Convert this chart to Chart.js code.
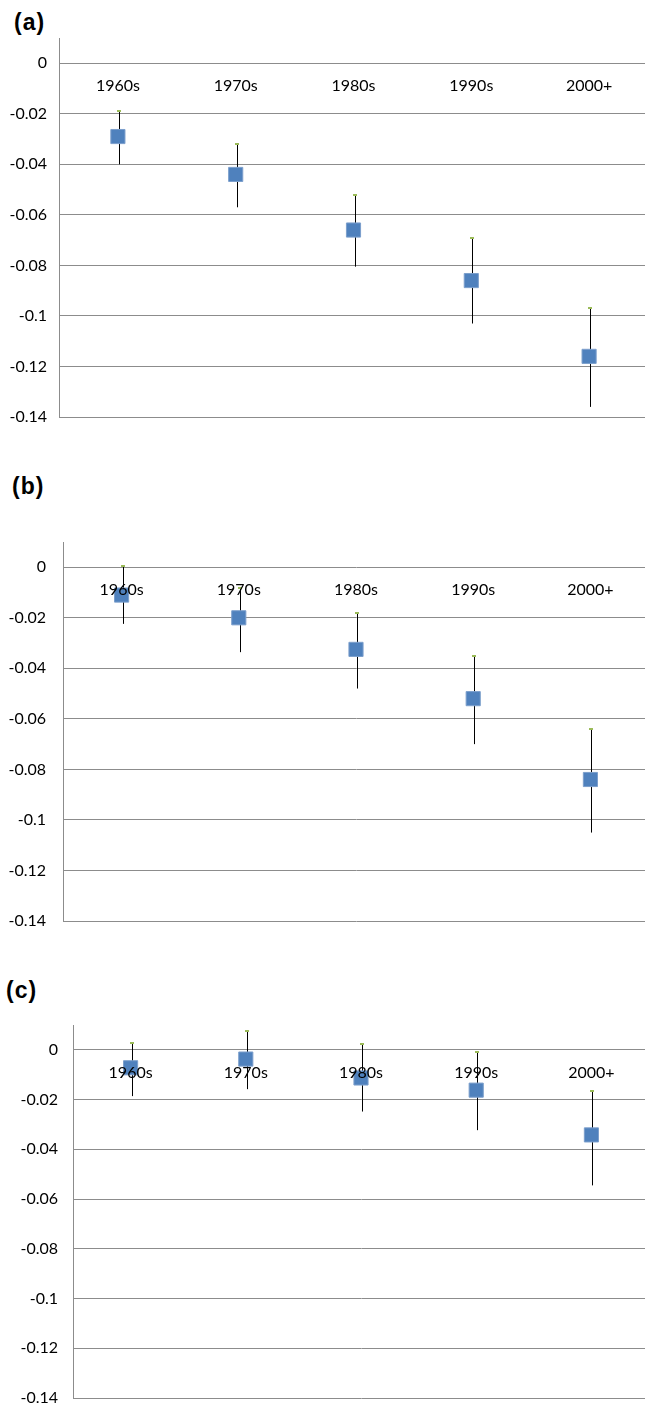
<!DOCTYPE html>
<html lang="en">
<head>
    <meta charset="UTF-8">
    <title>Decade effects</title>
    <script src="https://cdn.jsdelivr.net/npm/chart.js"></script>
    <style>
        html, body { margin: 0; padding: 0; background: #fff; overflow: hidden; }
        body { width: 645px; height: 1408px; position: relative; }
        .panel { position: absolute; left: 0; }
        .tag { position: absolute; font: bold 23px "Liberation Sans", Arial, sans-serif; line-height: 23px; letter-spacing: 1px; color: #000; }
    </style>
</head>
<body>
    <div class="tag" style="left:14px; top:11px">(a)</div>
    <div class="tag" style="left:12px; top:475px">(b)</div>
    <div class="tag" style="left:6px; top:979px">(c)</div>

    <canvas id="chartA" class="panel" style="top:0px" width="660" height="450"></canvas>
    <canvas id="chartB" class="panel" style="top:460px" width="660" height="494"></canvas>
    <canvas id="chartC" class="panel" style="top:960px" width="660" height="471"></canvas>

    <script>
        // categories and axis ticks
        const decades = ['1960s', '1970s', '1980s', '1990s', '2000+'];
        const yTicks = [0, -0.02, -0.04, -0.06, -0.08, -0.1, -0.12, -0.14];

        // panel (a)
        const meanA = [-0.029, -0.044, -0.066, -0.086, -0.116];
        const highA = [-0.019, -0.032, -0.052, -0.069, -0.097];
        const lowA  = [-0.040, -0.057, -0.0805, -0.103, -0.136];

        // panel (b)
        const meanB = [-0.011, -0.020, -0.0325, -0.052, -0.084];
        const highB = [0.0005, -0.0083, -0.018, -0.035, -0.064];
        const lowB  = [-0.0224, -0.0336, -0.048, -0.070, -0.105];

        // panel (c)
        const meanC = [-0.0072, -0.0037, -0.0113, -0.0162, -0.0342];
        const highC = [0.0026, 0.0075, 0.0022, -0.0008, -0.0165];
        const lowC  = [-0.0186, -0.0158, -0.0248, -0.0323, -0.0545];

        Chart.defaults.font.family = 'Lato, "Open Sans", sans-serif';
        Chart.defaults.font.size = 16;
        Chart.defaults.color = '#000';

        const gridGrey = '#8c8c8c';

        // vertical error bars with a small green cap on top
        const errorBars = {
            id: 'errorBars',
            beforeDatasetsDraw(chart, args, opts) {
                const ctx = chart.ctx;
                const x = chart.scales.x, y = chart.scales.y;
                ctx.save();
                opts.low.forEach((lo, i) => {
                    const px = Math.round(x.getPixelForValue(i)) + 1.5;
                    const top = Math.round(y.getPixelForValue(opts.high[i]));
                    const bot = y.getPixelForValue(lo);
                    ctx.strokeStyle = '#000';
                    ctx.lineWidth = 1;
                    ctx.beginPath();
                    ctx.moveTo(px, top);
                    ctx.lineTo(px, bot);
                    ctx.stroke();
                    ctx.fillStyle = '#9bbb59';
                    ctx.fillRect(px - 2.5, top - 1, 4, 2);
                });
                ctx.restore();
            }
        };

        function makePanel(id, mean, low, high, axisX, labelPad, pad) {
            return new Chart(document.getElementById(id), {
                type: 'line',
                data: {
                    labels: decades,
                    datasets: [{
                        data: mean,
                        showLine: false,
                        pointStyle: 'rect',
                        pointRadius: 10,
                        pointHoverRadius: 10,
                        backgroundColor: '#4f81bd',
                        borderColor: '#7c9fcc',
                        borderWidth: 1
                    }]
                },
                options: {
                    responsive: false,
                    animation: false,
                    events: [],
                    layout: { padding: pad },
                    plugins: {
                        legend: { display: false },
                        tooltip: { enabled: false },
                        errorBars: { low: low, high: high }
                    },
                    scales: {
                        x: {
                            type: 'category',
                            offset: true,
                            position: { y: 0 },
                            grid: { display: false },
                            border: { display: false },
                            // labels sit on top of the markers, as in the original
                            ticks: { padding: 5, maxRotation: 0, autoSkip: false, z: 1 }
                        },
                        y: {
                            min: -0.14,
                            max: 0.01,
                            afterBuildTicks: axis => { axis.ticks = yTicks.map(v => ({ value: v })); },
                            afterFit: axis => { axis.width = axisX; },
                            grid: { color: gridGrey, lineWidth: 1, drawTicks: false },
                            border: { display: true, color: gridGrey, width: 1 },
                            ticks: {
                                padding: labelPad,
                                callback: v => String(Number(v.toFixed(2)) || 0)
                            }
                        }
                    }
                },
                plugins: [errorBars]
            });
        }

        makePanel('chartA', meanA, lowA, highA, 59, 12, { top: 38, bottom: 33, left: 0, right: 12 });
        makePanel('chartB', meanB, lowB, highB, 63, 17, { top: 82, bottom: 33, left: 0, right: 6 });
        makePanel('chartC', meanC, lowC, highC, 73, 15, { top: 65, bottom: 33, left: 0, right: 5 });
    </script>
</body>
</html>
